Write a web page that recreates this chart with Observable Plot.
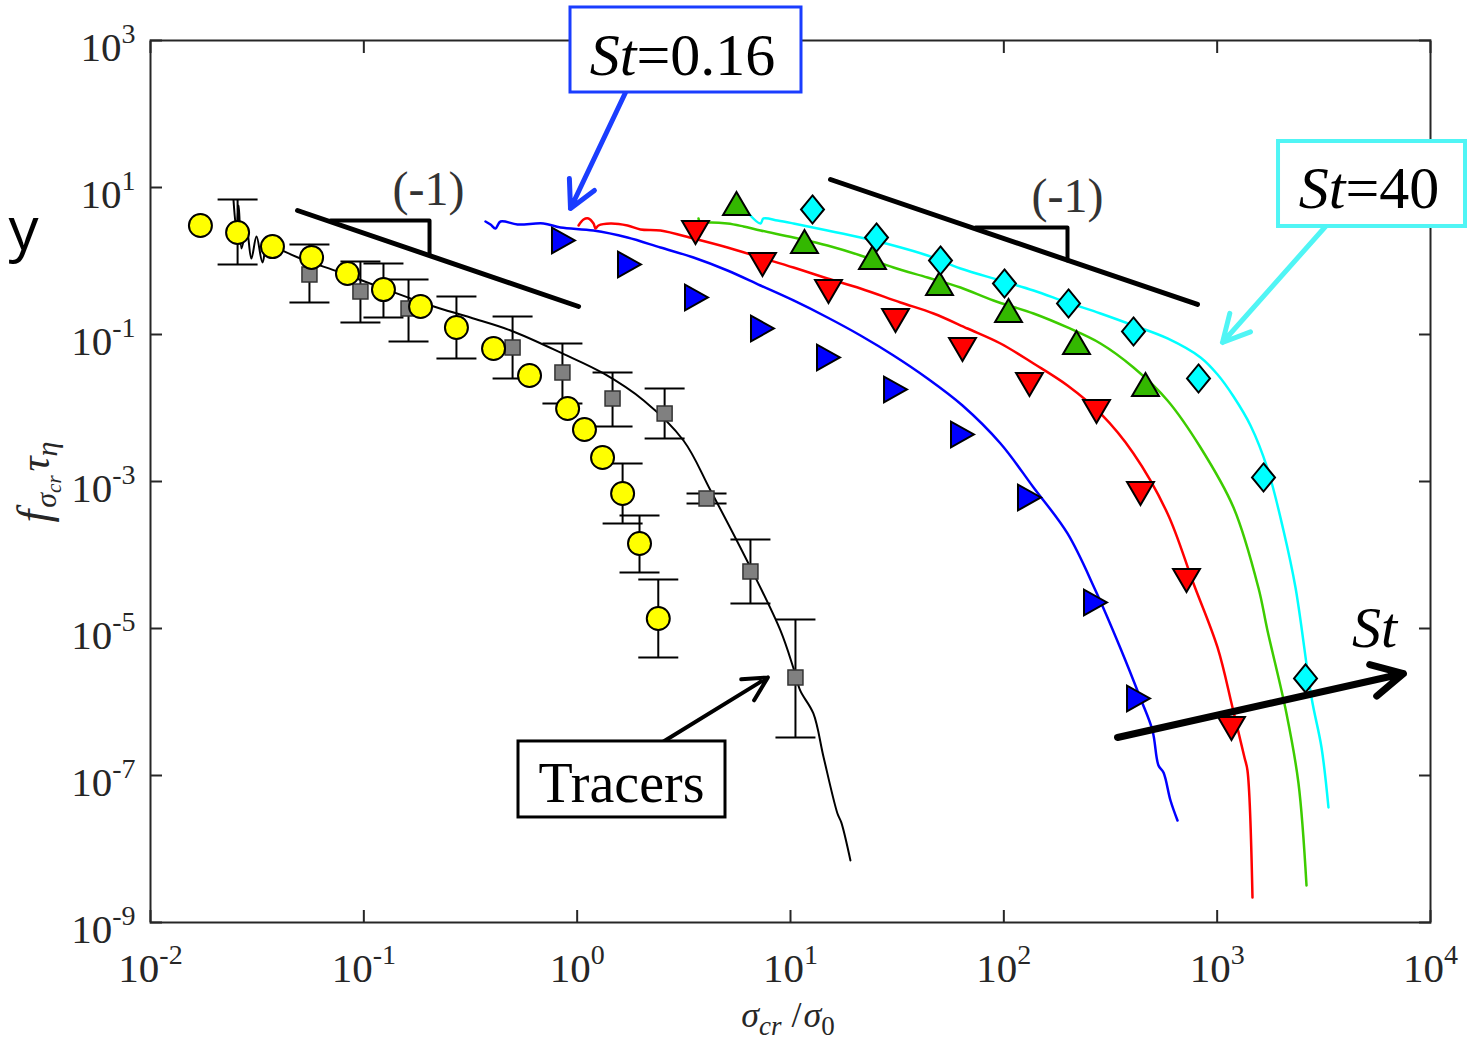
<!DOCTYPE html>
<html><head><meta charset="utf-8">
<script src="https://cdn.jsdelivr.net/npm/d3@7"></script>
<script src="https://cdn.jsdelivr.net/npm/@observablehq/plot@0.6"></script>
<style>
html,body{margin:0;padding:0;background:#fff;}
#chart{width:1470px;height:1040px;}
</style></head><body><div id="chart"></div>
<script>
// ---------- axis ticks ----------
const xTicks = [1e-2, 1e-1, 1e0, 1e1, 1e2, 1e3, 1e4];
const yTicks = [1e-9, 1e-7, 1e-5, 1e-3, 1e-1, 1e1, 1e3];

// ---------- tracers: DNS curve (black line) ----------
const tracerCurve = [
  [0.0245,6.65],[0.0253,2.60],[0.0259,5.69],[0.0267,1.48],[0.0282,2.77],[0.0297,1.08],
  [0.0314,2.15],[0.0335,0.955],[0.0353,1.68],[0.0385,1.53],[0.0505,1.08],[0.0778,0.698],
  [0.120,0.436],[0.206,0.248],[0.316,0.170],[0.488,0.1135],[0.853,0.0552],[1.33,0.0295],
  [2.05,0.01265],[3.15,0.00361],[4.22,7.55e-4],[6.49,6.76e-5],[8.97,9.4e-6],[10.3,2.95e-6],
  [11.1,1.44e-6],[12.8,6.98e-7],[14.3,1.76e-7],[16.6,3.04e-8],[17.3,2.30e-8],[19.1,6.98e-9]
];
// tracers: gray squares [x, y, lower, upper]
const tracerSquares = [
  [0.0256,2.44,0.896,6.87],[0.0556,0.655,0.272,1.68],[0.0964,0.385,0.1456,0.984],
  [0.162,0.226,0.0804,0.560],[0.498,0.0665,0.0252,0.176],[0.853,0.0304,0.01151,0.0755],
  [1.465,0.01346,0.00560,0.0304],[2.57,0.00841,0.00385,0.0184],[4.04,5.87e-4,5.02e-4,6.87e-4],
  [6.49,5.97e-5,2.19e-5,1.626e-4],[10.55,2.16e-6,3.29e-7,1.327e-5]
];
// tracers: yellow circles [x, y]
const yellowCircles = [
  [0.01714,3.04],[0.0256,2.44],[0.0373,1.57],[0.0569,1.12],[0.0838,0.676],[0.1236,0.409],
  [0.1845,0.2404],[0.2717,0.1245],[0.4055,0.0645],[0.598,0.0277],[0.902,0.00984],
  [1.082,0.00510],[1.315,0.00212],[1.633,6.87e-4],[1.96,1.435e-4],[2.40,1.368e-5]
];
// yellow circle error bars [x, lower, upper]
const yellowErr = [
  [0.1236,0.170,0.925],[0.2717,0.0472,0.329],[1.633,2.69e-4,0.00176],
  [1.96,5.78e-5,3.45e-4],[2.40,4.04e-6,4.64e-5]
];

// ---------- inertial particles: curves ----------
const curveSt016 = [
  [0.3717,3.448],[0.3925,3.139],[0.4143,2.769],[0.4372,3.448],[0.5253,3.139],[0.6955,3.238],
  [0.8354,2.857],[1.193,2.600],[1.721,2.088],[2.458,1.527],[3.510,1.116],[5.066,0.7427],
  [7.234,0.4642],[10.33,0.2902],[14.91,0.1703],[21.29,0.0969],[30.40,0.0518],[43.88,0.02521],
  [64.01,0.01082],[96.47,0.003291],[137.8,8.29e-4],[198.8,1.963e-4],[269.0,3.29e-5],
  [352.4,5.35e-6],[437.1,1.117e-6],[497.5,4.10e-7],[530.9,1.369e-7],[560.3,1.099e-7],
  [604.3,4.57e-8],[651.8,2.44e-8]
];
const curveRed = [
  [1.015,3.042],[1.071,3.670],[1.130,3.787],[1.193,3.238],[1.219,2.769],[1.259,3.042],
  [1.433,3.238],[1.721,3.042],[1.981,2.684],[2.458,2.600],[3.510,2.024],[5.066,1.527],
  [7.234,1.116],[10.33,0.8159],[14.91,0.5781],[21.29,0.4227],[32.78,0.2726],[46.81,0.1931],
  [67.55,0.1207],[96.47,0.07545],[137.8,0.04033],[198.8,0.02025],[283.9,0.008420],
  [405.3,0.002404],[585.1,3.672e-4],[774.5,4.10e-5],[1004,5.52e-6],[1180,8.42e-7],
  [1343,1.759e-7],[1387,1.171e-7],[1464,2.19e-9]
];
const curveGreen = [
  [3.706,3.787],[3.786,3.238],[4.082,3.341],[5.066,3.238],[6.022,2.948],[7.234,2.600],
  [10.33,2.088],[14.91,1.626],[21.29,1.188],[30.40,0.8159],[43.88,0.5966],[62.64,0.4362],
  [89.44,0.2902],[137.8,0.1931],[198.8,0.1246],[283.9,0.07545],[405.3,0.03557],
  [585.1,0.01266],[835.5,0.002903],[1193,4.43e-4],[1560,3.61e-5],[1721,9.40e-6],
  [2113,6.98e-7],[2406,7.79e-8],[2623,3.19e-9]
];
const curveSt40 = [
  [6.356,4.429],[7.234,3.238],[7.471,3.787],[8.694,3.557],[10.33,3.238],[14.91,2.600],
  [21.29,2.088],[30.40,1.626],[43.88,1.188],[62.64,0.7909],[96.47,0.5430],[137.8,0.3970],
  [198.8,0.2726],[283.9,0.1931],[405.3,0.1327],[585.1,0.08824],[835.5,0.04866],[1004,0.02856],
  [1193,0.01434],[1433,0.005783],[1721,0.001503],[2046,2.156e-4],[2329,3.61e-5],
  [2768,1.152e-6],[3084,2.405e-7],[3325,3.67e-8]
];
// ---------- inertial particles: markers ----------
const markBlue = [
  [0.8626,1.901],[1.759,0.8963],[3.626,0.3189],[7.391,0.1207],[15.07,0.04866],[31.07,0.01786],
  [64.01,0.004361],[131.9,6.06e-4],[269.0,2.26e-5],[427.9,1.117e-6]
];
const markRed = [
  [3.587,2.442],[7.391,0.8963],[15.07,0.3848],[31.07,0.1551],[64.01,0.06252],[131.9,0.02089],
  [271.9,0.008965],[437.1,6.87e-4],[718.3,4.50e-5],[1167,4.36e-7]
];
const markGreen = [
  [5.583,6.060],[11.63,1.842],[24.23,1.116],[49.94,0.4943],[105.2,0.2122],[219.1,0.07784],
  [461.4,0.02089]
];
const markCyan = [
  [12.68,5.021],[25.30,2.088],[50.48,1.016],[100.7,0.4943],[201.0,0.2642],[405.3,0.1099],
  [817.6,0.02521],[1649,0.001134],[2595,2.09e-6]
];

// ---------- annotations (data coordinates) ----------
const slopeLeft = [[0.04889,4.865],[1.015,0.2404]];
const slopeLeftTri = [[0.06978,3.557],[0.2032,3.557],[0.2032,1.226]];
const slopeRight = [[15.40,12.85],[808.8,0.2561]];
const slopeRightTri = [[73.66,2.857],[198.8,2.857],[198.8,1.016]];
const slopeLabels = [[0.2010,5.69,"(-1)"],[198.8,4.57,"(-1)"]];

const boxSt016 = [[0.9306,11.26,196.1,2812]];
const labelSt016 = [[1.897,334.1,"St","=0.16"]];
const arrowSt016 = [[1.685,196.1,0.9306,5.18]];

const boxSt40 = [[1939,14590,2.948,42.25]];
const labelSt40 = [[3997,5.18,"St","=40"]];
const arrowSt40 = [[3220,2.948,1059,0.07784]];

const boxTracers = [[0.5309,4.958,2.685e-8,2.904e-7]];
const labelTracers = [[1.614,4.30e-8,"Tracers"]];
const arrowTracers = [[2.540,2.904e-7,7.83,2.16e-6]];

const arrowSt = [[341.1,3.29e-7,7472,2.44e-6]];
const labelSt = [[5465,5.52e-6,"St"]];
const cropText = [[0.00216,1.39,"y"]];

// ---------- styling ----------
const serif = "'Liberation Serif','Times New Roman',Times,serif";
const axisColor = "#262626";
const cBlue = "#0000ff", cRed = "#ff0000", cGreenLine = "#3dcc00", cGreenFill = "#33b800", cCyan = "#00ffff";
const annBlue = "#1a3dff", annCyan = "#50f5f5";

const X = d => d[0], Y = d => d[1];
const fmt = d => "10^" + Math.round(Math.log10(d));
const r_ = s => Math.sqrt(s / Math.PI);
const symSquare = {draw(c, s){const r=r_(s); c.moveTo(-r,-r); c.lineTo(r,-r); c.lineTo(r,r); c.lineTo(-r,r); c.closePath();}};
const symUp = {draw(c, s){const r=r_(s); c.moveTo(0,-r); c.lineTo(1.17*r,r); c.lineTo(-1.17*r,r); c.closePath();}};
const symDown = {draw(c, s){const r=r_(s); c.moveTo(0,r); c.lineTo(1.17*r,-r); c.lineTo(-1.17*r,-r); c.closePath();}};
const symRight = {draw(c, s){const r=r_(s); c.moveTo(r,0); c.lineTo(-r,1.12*r); c.lineTo(-r,-1.12*r); c.closePath();}};
const symDiamond = {draw(c, s){const r=r_(s); c.moveTo(0,-1.22*r); c.lineTo(r,0); c.lineTo(0,1.22*r); c.lineTo(-r,0); c.closePath();}};
const symCap = {draw(c, s){const r=r_(s); c.moveTo(-r,0); c.lineTo(r,0);}};

const capsGray = tracerSquares.flatMap(d => [[d[0], d[2]], [d[0], d[3]]]);
const capsYellow = yellowErr.flatMap(d => [[d[0], d[1]], [d[0], d[2]]]);

const rectOpts = (stroke, sw) => ({x1: d=>d[0], x2: d=>d[1], y1: d=>d[2], y2: d=>d[3], fill: "white", stroke, strokeWidth: sw});
const arrowOpts = (stroke, sw, hl) => ({x1: d=>d[0], y1: d=>d[1], x2: d=>d[2], y2: d=>d[3], stroke, strokeWidth: sw, headLength: hl, headAngle: 55});
const smooth = "catmull-rom";

const plot = Plot.plot({
  width: 1470, height: 1040,
  marginLeft: 150, marginRight: 40, marginTop: 40, marginBottom: 118,
  style: {background: "#fff", color: axisColor, fontFamily: serif, overflow: "visible"},
  x: {type: "log", domain: [1e-2, 1e4]},
  y: {type: "log", domain: [1e-9, 1e3]},
  marks: [
    // axes
    Plot.axisX({ticks: xTicks, anchor: "bottom", tickSize: -12, strokeWidth: 2, fill: "none", label: null}),
    Plot.axisX({ticks: xTicks, anchor: "top", tickSize: -12, strokeWidth: 2, fill: "none", label: null}),
    Plot.axisY({ticks: yTicks, anchor: "left", tickSize: -12, strokeWidth: 2, fill: "none", label: null}),
    Plot.axisY({ticks: yTicks, anchor: "right", tickSize: -12, strokeWidth: 2, fill: "none", label: null}),
    Plot.axisX({ticks: xTicks, anchor: "bottom", tickSize: 0, tickPadding: 30, tickFormat: fmt, fontSize: 41, fontFamily: serif, label: null}),
    Plot.axisY({ticks: yTicks, anchor: "left", tickSize: 0, tickPadding: 15, dy: 7, tickFormat: fmt, fontSize: 41, fontFamily: serif, label: null}),
    Plot.frame({stroke: axisColor, strokeWidth: 2}),

    // tracers
    Plot.line(tracerCurve, {x: X, y: Y, stroke: "black", strokeWidth: 2, curve: smooth}),
    Plot.ruleX(tracerSquares, {x: X, y1: d=>d[2], y2: d=>d[3], stroke: "black", strokeWidth: 2}),
    Plot.dot(capsGray, {x: X, y: Y, symbol: symCap, r: 20, stroke: "black", strokeWidth: 2, fill: "none"}),
    Plot.dot(tracerSquares, {x: X, y: Y, symbol: symSquare, r: 7.5, fill: "#808080", stroke: "#333", strokeWidth: 1.5}),
    Plot.ruleX(yellowErr, {x: X, y1: d=>d[1], y2: d=>d[2], stroke: "black", strokeWidth: 2}),
    Plot.dot(capsYellow, {x: X, y: Y, symbol: symCap, r: 20, stroke: "black", strokeWidth: 2, fill: "none"}),
    Plot.dot(yellowCircles, {x: X, y: Y, r: 11.5, fill: "#ffff00", stroke: "black", strokeWidth: 2}),

    // inertial curves
    Plot.line(curveSt016, {x: X, y: Y, stroke: cBlue, strokeWidth: 2.5, curve: smooth}),
    Plot.line(curveRed, {x: X, y: Y, stroke: cRed, strokeWidth: 2.5, curve: smooth}),
    Plot.line(curveGreen, {x: X, y: Y, stroke: cGreenLine, strokeWidth: 2.5, curve: smooth}),
    Plot.line(curveSt40, {x: X, y: Y, stroke: cCyan, strokeWidth: 2.5, curve: smooth}),

    // inertial markers
    Plot.dot(markBlue, {x: X, y: Y, symbol: symRight, r: 11.5, fill: cBlue, stroke: "black", strokeWidth: 2}),
    Plot.dot(markRed, {x: X, y: Y, symbol: symDown, r: 11.5, fill: cRed, stroke: "black", strokeWidth: 2}),
    Plot.dot(markGreen, {x: X, y: Y, symbol: symUp, r: 11.5, fill: cGreenFill, stroke: "black", strokeWidth: 2}),
    Plot.dot(markCyan, {x: X, y: Y, symbol: symDiamond, r: 11.5, fill: cCyan, stroke: "black", strokeWidth: 2}),

    // slope guides
    Plot.line(slopeLeft, {x: X, y: Y, stroke: "black", strokeWidth: 5}),
    Plot.line(slopeLeftTri, {x: X, y: Y, stroke: "black", strokeWidth: 4}),
    Plot.line(slopeRight, {x: X, y: Y, stroke: "black", strokeWidth: 5}),
    Plot.line(slopeRightTri, {x: X, y: Y, stroke: "black", strokeWidth: 4}),
    Plot.text(slopeLabels, {x: X, y: Y, text: d=>d[2], fontSize: 48, fontFamily: serif, fill: "#333", textAnchor: "middle", lineAnchor: "bottom"}),

    // St = 0.16 callout
    Plot.arrow(arrowSt016, arrowOpts(annBlue, 5, 9)),
    Plot.rect(boxSt016, rectOpts(annBlue, 3)),
    Plot.text(labelSt016, {x: X, y: Y, text: d=>d[2], fontSize: 60, fontFamily: serif, fontStyle: "italic", fill: "black", textAnchor: "end", lineAnchor: "bottom"}),
    Plot.text(labelSt016, {x: X, y: Y, text: d=>d[3], fontSize: 60, fontFamily: serif, fill: "black", textAnchor: "start", lineAnchor: "bottom"}),

    // St = 40 callout
    Plot.arrow(arrowSt40, arrowOpts(annCyan, 5, 9)),
    Plot.rect(boxSt40, rectOpts(annCyan, 4)),
    Plot.text(labelSt40, {x: X, y: Y, text: d=>d[2], fontSize: 60, fontFamily: serif, fontStyle: "italic", fill: "black", textAnchor: "end", lineAnchor: "bottom"}),
    Plot.text(labelSt40, {x: X, y: Y, text: d=>d[3], fontSize: 60, fontFamily: serif, fill: "black", textAnchor: "start", lineAnchor: "bottom"}),

    // Tracers callout
    Plot.arrow(arrowTracers, arrowOpts("black", 4, 10)),
    Plot.rect(boxTracers, rectOpts("black", 3)),
    Plot.text(labelTracers, {x: X, y: Y, text: d=>d[2], fontSize: 56, fontFamily: serif, fill: "black", textAnchor: "middle", lineAnchor: "bottom"}),

    // St direction arrow
    Plot.arrow(arrowSt, arrowOpts("black", 7, 7.5)),
    Plot.text(labelSt, {x: X, y: Y, text: d=>d[2], fontSize: 58, fontFamily: serif, fontStyle: "italic", fill: "black", textAnchor: "middle", lineAnchor: "bottom"}),

    // cropped text fragment at left edge
    Plot.text(cropText, {x: X, y: Y, text: d=>d[2], fontSize: 60, fontFamily: "'Open Sans','Noto Sans',sans-serif", fill: "black", textAnchor: "start", lineAnchor: "bottom"})
  ]
});

document.getElementById("chart").appendChild(plot);

// superscript exponents on tick labels
const NS = "http://www.w3.org/2000/svg";
plot.querySelectorAll('g[aria-label="x-axis tick label"] text, g[aria-label="y-axis tick label"] text').forEach(t => {
  const s = t.textContent;
  if (!s.includes("^")) return;
  const [b, e] = s.split("^");
  t.textContent = b;
  const ts = document.createElementNS(NS, "tspan");
  ts.setAttribute("dy", "-18");
  ts.setAttribute("font-size", "28");
  ts.textContent = e;
  t.appendChild(ts);
});

// axis titles
const svg = d3.select(plot);
const xt = svg.append("text").attr("x", 788).attr("y", 1027).attr("text-anchor", "middle")
  .attr("font-family", serif).attr("fill", axisColor).attr("font-size", 36);
xt.append("tspan").attr("font-style", "italic").text("σ");
xt.append("tspan").attr("font-style", "italic").attr("font-size", 27).attr("dy", 8).text("cr");
xt.append("tspan").attr("dy", -8).attr("dx", 10).text("/");
xt.append("tspan").attr("font-style", "italic").attr("dx", 2).text("σ");
xt.append("tspan").attr("font-size", 27).attr("dy", 8).text("0");

const yt = svg.append("text").attr("transform", "translate(49,482) rotate(-90)").attr("text-anchor", "middle")
  .attr("font-family", serif).attr("fill", axisColor).attr("font-style", "italic").attr("font-size", 46);
yt.append("tspan").text("f");
yt.append("tspan").attr("font-size", 30).attr("dy", 7).attr("dx", 2).text("σ");
yt.append("tspan").attr("font-size", 21).attr("dy", 5).text("cr");
yt.append("tspan").attr("font-size", 42).attr("dy", -12).attr("dx", 4).text("τ");
yt.append("tspan").attr("font-size", 30).attr("dy", 8).text("η");
</script>
</body></html>
